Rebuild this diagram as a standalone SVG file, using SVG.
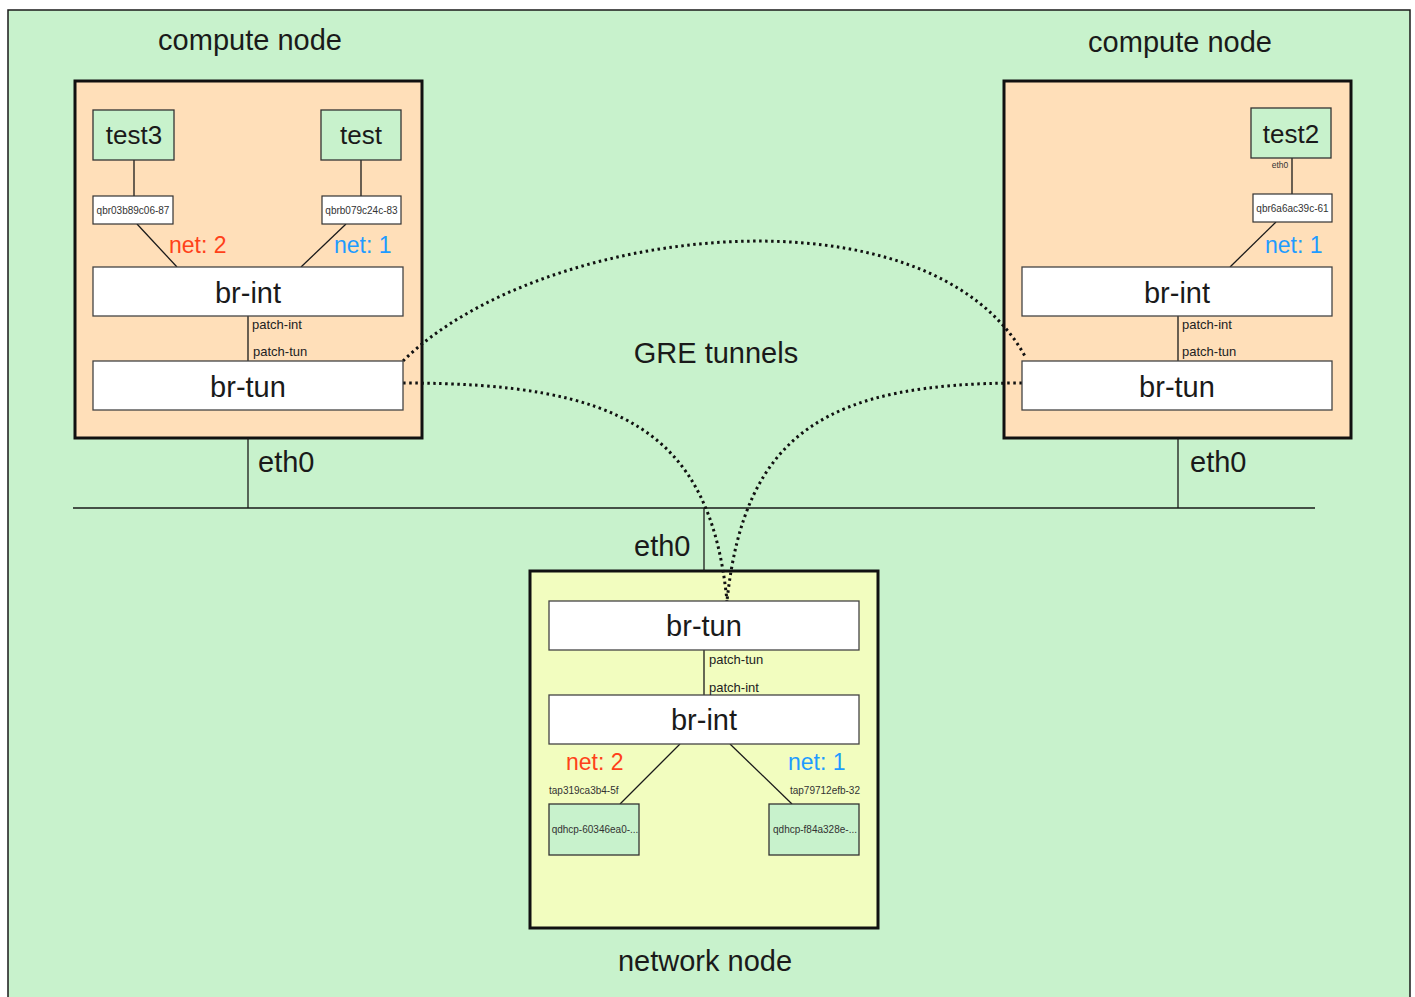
<svg xmlns="http://www.w3.org/2000/svg" width="1415" height="997" viewBox="0 0 1415 997">
<style>
text{font-family:"Liberation Sans",Arial,sans-serif;fill:#1a1a1a}
.big{font-size:29px}
.mid{font-size:26px}
.net{font-size:23px}
.sm{font-size:13px;fill:#222}
.xs{font-size:10px;fill:#333}
.c{text-anchor:middle}
.host{fill:#ffdfb9;stroke:#111;stroke-width:3}
.nethost{fill:#f2fdbf;stroke:#111;stroke-width:3}
.br{fill:#fff;stroke:#444;stroke-width:1.3}
.vm{fill:#c8f2cc;stroke:#333;stroke-width:1.3}
.port{fill:#fff;stroke:#333;stroke-width:1.2}
.ln{stroke:#1a1a1a;stroke-width:1.3;fill:none}
.gre{stroke:#111;stroke-width:3;fill:none;stroke-dasharray:2.5 3.5}
.red{fill:#ff4119}
.blue{fill:#1e9bff}
</style>
<rect x="8" y="10" width="1402" height="1000" fill="#c8f2cc" stroke="#1a1a1a" stroke-width="1.5"/>

<g id="compute-left">
<rect class="host" x="75" y="81" width="347" height="357"/>
<text class="big c" x="250" y="50">compute node</text>
</g>
<g id="compute-right">
<rect class="host" x="1004" y="81" width="347" height="357"/>
<text class="big c" x="1180" y="52">compute node</text>
</g>
<g id="network-node">
<rect class="nethost" x="530" y="571" width="348" height="357"/>
<text class="big c" x="705" y="971">network node</text>
</g>

<g id="connectors">
<line class="ln" x1="73" y1="508" x2="1315" y2="508"/>
<line class="ln" x1="134" y1="160" x2="134" y2="196"/>
<line class="ln" x1="361" y1="160" x2="361" y2="196"/>
<line class="ln" x1="137" y1="224" x2="177" y2="267"/>
<line class="ln" x1="346" y1="224" x2="301" y2="267"/>
<line class="ln" x1="248" y1="316" x2="248" y2="361"/>
<line class="ln" x1="248" y1="438" x2="248" y2="508"/>
<line class="ln" x1="1292" y1="158" x2="1292" y2="194"/>
<line class="ln" x1="1276" y1="222" x2="1230" y2="267"/>
<line class="ln" x1="1178" y1="316" x2="1178" y2="361"/>
<line class="ln" x1="1178" y1="438" x2="1178" y2="508"/>
<line class="ln" x1="704" y1="508" x2="704" y2="571"/>
<line class="ln" x1="704" y1="650" x2="704" y2="695"/>
<line class="ln" x1="680" y1="744" x2="620" y2="804"/>
<line class="ln" x1="730" y1="744" x2="792" y2="804"/>
<path class="gre" d="M403,361 C540,225 930,180 1026,358"/>
<path class="gre" d="M403,383 C620,383 710,430 727,601"/>
<path class="gre" d="M1022,383 C830,383 745,430 727,601"/>
</g>

<g id="left-vms">
<g id="test3"><rect class="vm" x="93" y="110" width="81" height="50"/><text class="mid c" x="134" y="144">test3</text></g>
<g id="test"><rect class="vm" x="321" y="110" width="80" height="50"/><text class="mid c" x="361" y="144">test</text></g>
<g id="qbr03b89c06-87"><rect class="port" x="93" y="196" width="80" height="28"/><text class="xs c" x="133" y="213.5">qbr03b89c06-87</text></g>
<g id="qbrb079c24c-83"><rect class="port" x="322" y="196" width="79" height="28"/><text class="xs c" x="361.5" y="213.5">qbrb079c24c-83</text></g>
<text class="net red" x="169" y="253">net: 2</text>
<text class="net blue" x="334" y="253">net: 1</text>
</g>
<g id="left-br-int"><rect class="br" x="93" y="267" width="310" height="49"/><text class="big c" x="248" y="302.5">br-int</text></g>
<g id="left-br-tun"><rect class="br" x="93" y="361" width="310" height="49"/><text class="big c" x="248" y="397">br-tun</text></g>
<text class="sm" x="252" y="329">patch-int</text>
<text class="sm" x="253" y="356">patch-tun</text>
<text class="big" x="258" y="472">eth0</text>

<g id="right-vms">
<g id="test2"><rect class="vm" x="1251" y="108" width="80" height="50"/><text class="mid c" x="1291" y="143">test2</text></g>
<text x="1280" y="168" style="font-size:8.5px;fill:#333" class="c">eth0</text>
<g id="qbr6a6ac39c-61"><rect class="port" x="1253" y="194" width="79" height="28"/><text class="xs c" x="1292.5" y="211.5">qbr6a6ac39c-61</text></g>
<text class="net blue" x="1265" y="253">net: 1</text>
</g>
<g id="right-br-int"><rect class="br" x="1022" y="267" width="310" height="49"/><text class="big c" x="1177" y="302.5">br-int</text></g>
<g id="right-br-tun"><rect class="br" x="1022" y="361" width="310" height="49"/><text class="big c" x="1177" y="397">br-tun</text></g>
<text class="sm" x="1182" y="329">patch-int</text>
<text class="sm" x="1182" y="356">patch-tun</text>
<text class="big" x="1190" y="472">eth0</text>

<text class="big c" x="716" y="363">GRE tunnels</text>
<text class="big" x="634" y="556">eth0</text>

<g id="net-br-tun"><rect class="br" x="549" y="601" width="310" height="49"/><text class="big c" x="704" y="636">br-tun</text></g>
<g id="net-br-int"><rect class="br" x="549" y="695" width="310" height="49"/><text class="big c" x="704" y="730">br-int</text></g>
<text class="sm" x="709" y="664">patch-tun</text>
<text class="sm" x="709" y="692">patch-int</text>
<text class="net red" x="566" y="770">net: 2</text>
<text class="net blue" x="788" y="770">net: 1</text>
<text class="xs" x="549" y="793.5">tap319ca3b4-5f</text>
<text class="xs" x="860" y="793.5" text-anchor="end">tap79712efb-32</text>
<g id="qdhcp-60346ea0"><rect class="vm" x="549" y="804" width="90" height="51"/><text class="xs c" x="595" y="832.5">qdhcp-60346ea0-...</text></g>
<g id="qdhcp-f84a328e"><rect class="vm" x="769" y="804" width="90" height="51"/><text class="xs c" x="815" y="832.5">qdhcp-f84a328e-...</text></g>
</svg>
